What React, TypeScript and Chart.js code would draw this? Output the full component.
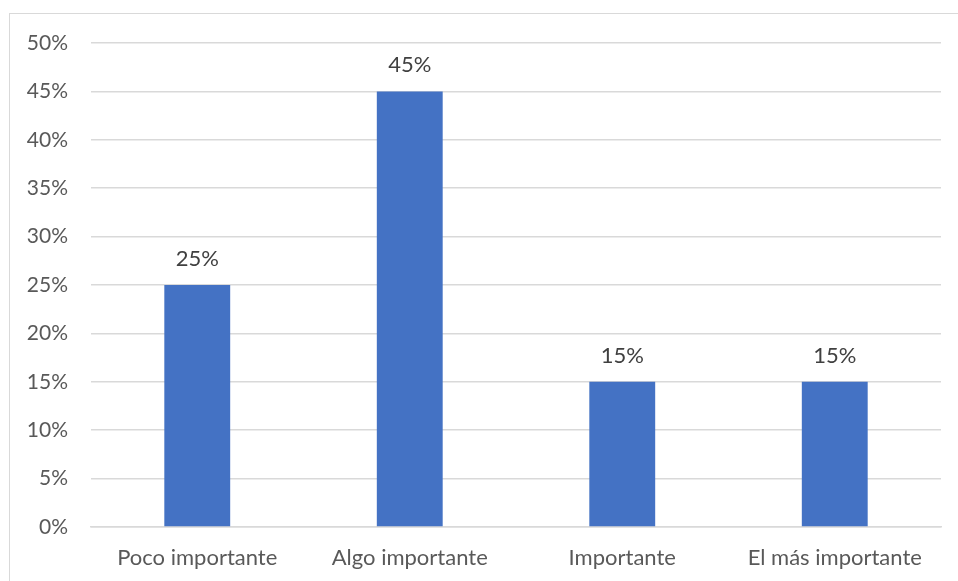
import React, { useEffect, useRef } from "react";
import { Chart, registerables } from "chart.js";

Chart.register(...registerables);

const categories = ["Poco importante", "Algo importante", "Importante", "El más importante"];
const values = [25, 45, 15, 15];
const yTicks = [0, 5, 10, 15, 20, 25, 30, 35, 40, 45, 50];

const FONT = "Lato, 'Noto Sans', sans-serif";
const TEXT = "#595959";

const labelPlugin = {
  id: "barLabels",
  afterDatasetsDraw(chart: any) {
    const ctx = chart.ctx;
    const meta = chart.getDatasetMeta(0);
    ctx.save();
    ctx.font = `22px ${FONT}`;
    ctx.fillStyle = "#404040";
    ctx.textAlign = "center";
    ctx.textBaseline = "middle";
    meta.data.forEach((bar: any, i: number) => {
      ctx.fillText(values[i] + "%", bar.x, bar.y - 26);
    });
    ctx.restore();
  },
};

export default function App() {
  const ref = useRef<HTMLCanvasElement>(null);
  useEffect(() => {
    const chart = new Chart(ref.current!, {
      type: "bar",
      data: {
        labels: categories,
        datasets: [
          {
            data: values,
            backgroundColor: "#4472C4",
            categoryPercentage: 1,
            barPercentage: 0.31,
          },
        ],
      },
      options: {
        animation: false,
        responsive: false,
        maintainAspectRatio: false,
        layout: { padding: { left: 0, right: 17, top: 43, bottom: 0 } },
        plugins: { legend: { display: false }, tooltip: { enabled: false } },
        scales: {
          x: {
            grid: { display: false, drawTicks: false },
            border: { color: "#d9d9d9", width: 1.5 },
            ticks: { color: TEXT, font: { family: FONT, size: 22 }, padding: 18, maxRotation: 0 },
            afterFit: (s: any) => {
              s.height = 54;
            },
          },
          y: {
            min: 0,
            max: 50,
            afterBuildTicks: (s: any) => {
              s.ticks = yTicks.map((v) => ({ value: v }));
            },
            grid: { color: "#d9d9d9", lineWidth: 1.5, drawTicks: false },
            border: { display: false },
            ticks: {
              color: TEXT,
              font: { family: FONT, size: 21 },
              padding: 23,
              callback: (v: any) => v + "%",
            },
            afterFit: (s: any) => {
              s.width = 91;
            },
          },
        },
      },
      plugins: [labelPlugin],
    });
    return () => chart.destroy();
  }, []);
  return (
    <div style={{ position: "fixed", left: 0, top: 0, width: 958, height: 581, background: "#fff" }}>
      <div
        style={{
          position: "absolute",
          left: 9,
          top: 13,
          width: 960,
          height: 600,
          border: "1.5px solid #d9d9d9",
        }}
      />
      <canvas ref={ref} width={958} height={581} style={{ position: "absolute", left: 0, top: 0 }} />
    </div>
  );
}
